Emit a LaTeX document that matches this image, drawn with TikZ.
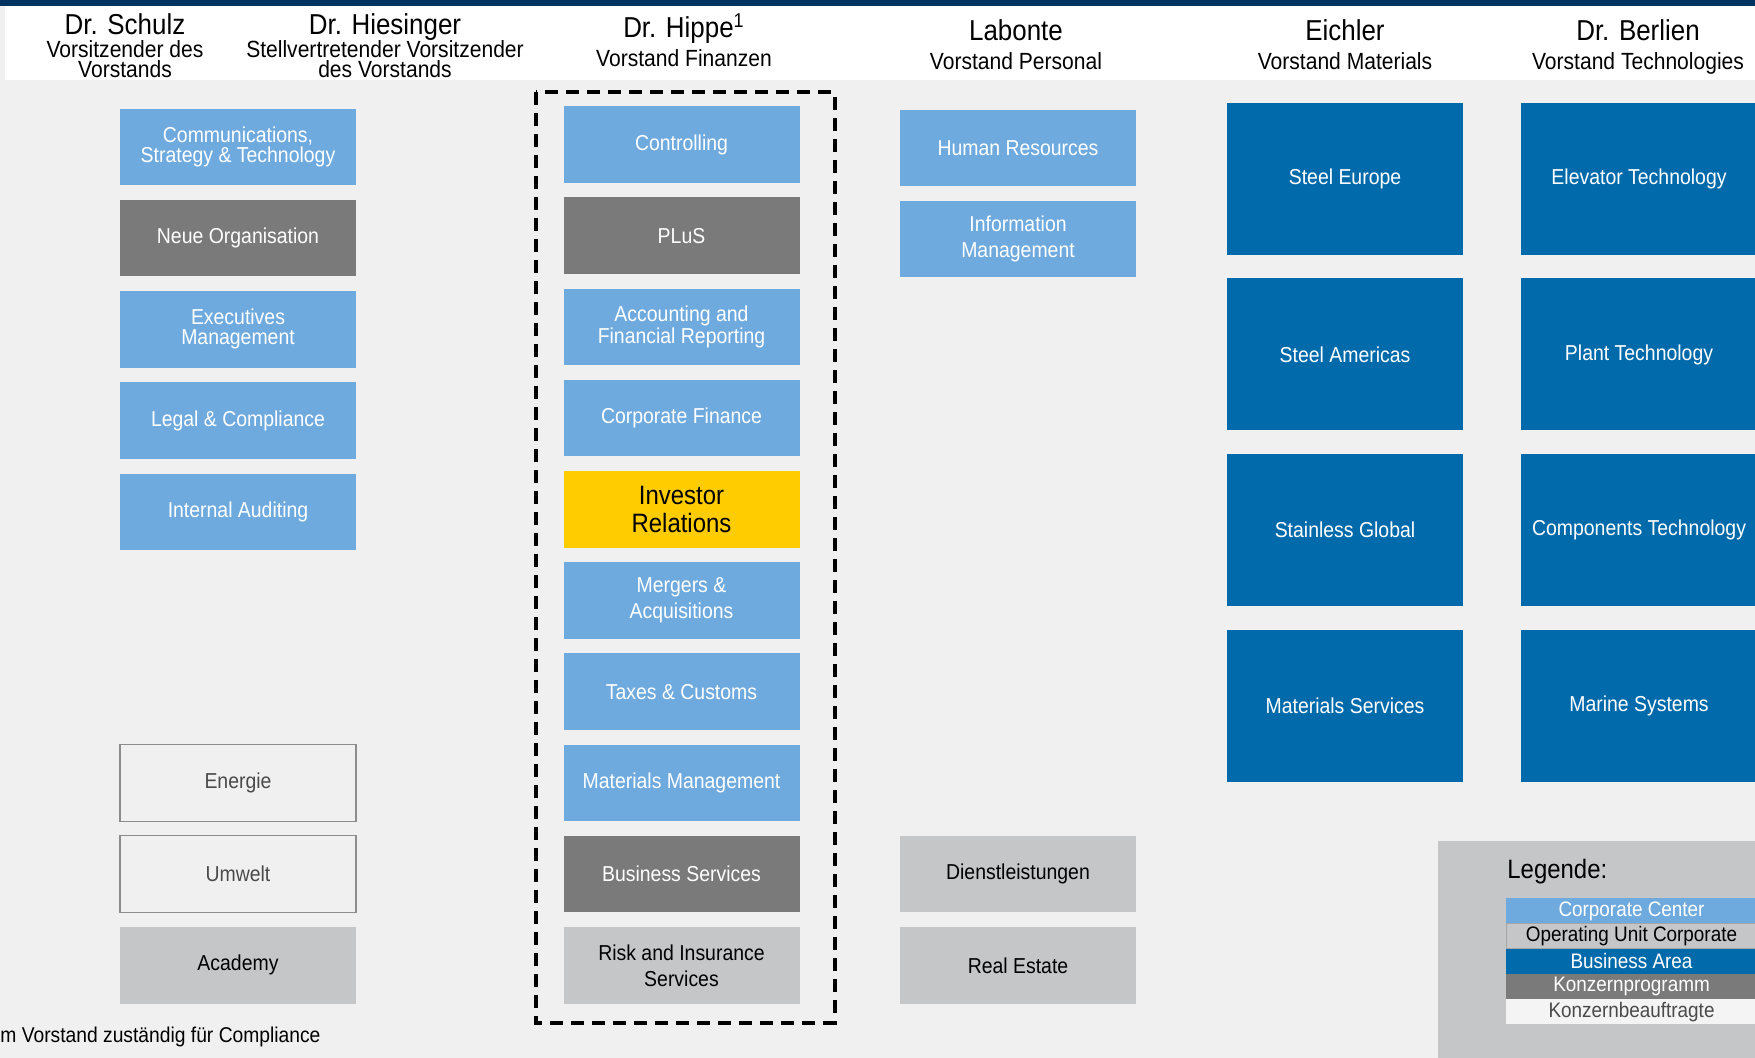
\documentclass[tikz,border=0pt]{standalone}
\usepackage{fontspec}
\setmainfont{Liberation Sans}[FakeStretch=0.9]
\usetikzlibrary{positioning}

\definecolor{ccblue}{HTML}{6FAADF}
\definecolor{bablue}{HTML}{006AAB}
\definecolor{kpgray}{HTML}{7A7A7A}
\definecolor{ougray}{HTML}{C5C6C8}
\definecolor{ouline}{HTML}{A6A6A6}
\definecolor{irgold}{HTML}{FFCC00}
\definecolor{bggray}{HTML}{F0F0F0}
\definecolor{topnavy}{HTML}{00335F}
\definecolor{kbline}{HTML}{8C8C8C}
\definecolor{kbtext}{HTML}{4A4A4A}
\definecolor{kbfill}{HTML}{F4F4F4}

\begin{document}
\begin{tikzpicture}[
    x=0.5pt, y=-0.5pt,
    node distance=7.35pt,
    unit/.style={minimum width=118pt, minimum height=38.25pt, inner sep=1pt, outer sep=0pt, align=center, font=\fontsize{10.8}{13}\selectfont},
    cc/.style={unit, fill=ccblue, text=white},
    kp/.style={unit, fill=kpgray, text=white},
    ou/.style={unit, fill=ougray, text=black},
    kb/.style={unit, draw=kbline, line width=0.6pt, fill=bggray, text=kbtext},
    ba/.style={unit, fill=bablue, text=white, minimum height=76pt},
    tight/.style={font=\fontsize{10.8}{10}\selectfont},
    person/.style={inner sep=0pt, anchor=base, font=\fontsize{14.4}{15}\selectfont},
    role/.style={inner sep=0pt, align=center, font=\fontsize{11.7}{10}\selectfont},
    leg/.style={minimum width=125.5pt, minimum height=12.6pt, inner sep=0pt, outer sep=0pt, font=\fontsize{10.5}{11}\selectfont},
    finframe/.style={draw, line width=2pt, dash pattern=on 6.5pt off 4pt},
]
\useasboundingbox (0,0) rectangle (1755,1058);
\clip (0,0) rectangle (1755,1058);

% Background and header band
\fill[bggray] (0,0) rectangle (1755,1058);
\fill[white] (5,6) rectangle (1755,80);
\fill[topnavy] (0,0) rectangle (1755,6);

% Board members
\node[person] (nmSchulz) at (125,35) {Dr. Schulz};
\node[role] (rlSchulz) at (125,59) {Vorsitzender des\\Vorstands};
\node[person] (nmHiesinger) at (385,35) {Dr. Hiesinger};
\node[role] (rlHiesinger) at (385,59) {Stellvertretender Vorsitzender\\des Vorstands};
\node[person] (nmHippe) at (684,38) {Dr. Hippe\textsuperscript{1}};
\node[role, anchor=base] (rlHippe) at (684,66.5) {Vorstand Finanzen};
\node[person] (nmLabonte) at (1016,40.5) {Labonte};
\node[role, anchor=base] (rlLabonte) at (1016,70) {Vorstand Personal};
\node[person] (nmEichler) at (1345,40.5) {Eichler};
\node[role, anchor=base] (rlEichler) at (1345,70) {Vorstand Materials};
\node[person] (nmBerlien) at (1638,40.5) {Dr. Berlien};
\node[role, anchor=base] (rlBerlien) at (1638,70) {Vorstand Technologies};

% Finance column
\node[cc] (ctrl) at (681.5,144.5) {Controlling};
\node[kp, below=of ctrl] (plus) {PLuS};
\node[cc, tight, below=of plus] (acct) {Accounting and\\Financial Reporting};
\node[cc, below=of acct] (corpfin) {Corporate Finance};
\node[unit, fill=irgold, text=black, font=\fontsize{13.3}{14}\selectfont, below=of corpfin] (ir) {Investor\\Relations};
\node[cc, below=of ir] (mna) {Mergers \&\\Acquisitions};
\node[cc, below=of mna] (taxes) {Taxes \& Customs};
\node[cc, below=of taxes] (matmgmt) {Materials Management};
\node[kp, below=of matmgmt] (bizserv) {Business Services};
\node[ou, below=of bizserv] (risk) {Risk and Insurance\\Services};

\draw[finframe] ([xshift=-14pt, yshift=7pt]ctrl.north west) rectangle ([xshift=17.5pt, yshift=-9.5pt]risk.south east);

% CEO column
\node[cc, tight] (comms) at (238,147) {Communications,\\Strategy \& Technology};
\node[kp, below=of comms] (neueorg) {Neue Organisation};
\node[cc, tight, below=of neueorg] (execs) {Executives\\Management};
\node[cc, below=of execs] (legal) {Legal \& Compliance};
\node[cc, below=of legal] (audit) {Internal Auditing};
\node[kb] (energie) at (comms |- matmgmt) {Energie};
\node[kb] (umwelt) at (comms |- bizserv) {Umwelt};
\node[ou] (academy) at (comms |- risk) {Academy};

% HR column
\node[cc] (hr) at (1018,148) {Human Resources};
\node[cc, below=of hr] (infomgmt) {Information\\Management};
\node[ou] (dienst) at (hr |- bizserv) {Dienstleistungen};
\node[ou] (realestate) at (hr |- risk) {Real Estate};

% Business areas
\node[ba] (steeleu) at (1345,179) {Steel Europe};
\node[ba, below=11.75pt of steeleu] (steelam) {Steel Americas};
\node[ba, below=11.75pt of steelam] (stainless) {Stainless Global};
\node[ba, below=11.75pt of stainless] (matserv) {Materials Services};

\node[ba] (elevator) at (1639,179) {Elevator Technology};
\node[ba, below=11.75pt of elevator] (plant) {Plant Technology};
\node[ba, below=11.75pt of plant] (components) {Components Technology};
\node[ba, below=11.75pt of components] (marine) {Marine Systems};

% Legend
\fill[ougray] (1438,841) rectangle (1755,1058);
\node[anchor=west, inner sep=0pt, font=\fontsize{13.3}{14}\selectfont] (legtitle) at (1507,872) {Legende:};
\node[leg, fill=ccblue, text=white] (lgcc) at (1631.5,911) {Corporate Center};
\node[leg, fill=ougray, draw=ouline, line width=0.5pt, below=0pt of lgcc] (lgou) {Operating Unit Corporate};
\node[leg, fill=bablue, text=white, below=0pt of lgou] (lgba) {Business Area};
\node[leg, fill=kpgray, text=white, below=0pt of lgba] (lgkp) {Konzernprogramm};
\node[leg, fill=kbfill, text=kbtext, below=0pt of lgkp] (lgkb) {Konzernbeauftragte};

% Footnote
\node[anchor=west, inner sep=0pt, font=\fontsize{10.7}{11}\selectfont] (fnote) at (0,1037) {m Vorstand zuständig für Compliance};

\end{tikzpicture}
\end{document}
